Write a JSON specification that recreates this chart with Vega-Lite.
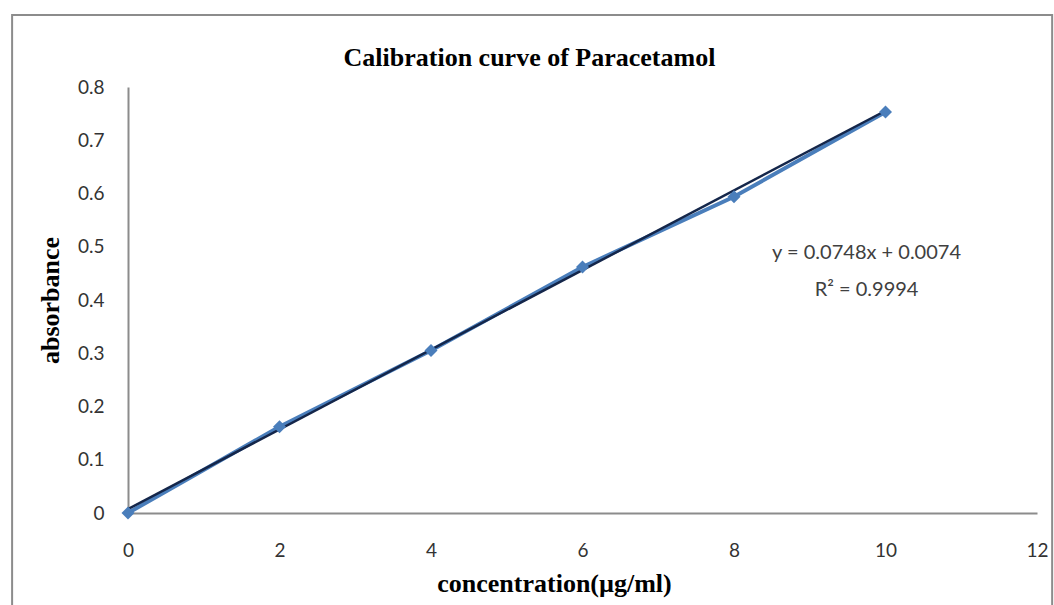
{
  "$schema": "https://vega.github.io/schema/vega-lite/v6.json",
  "width": 909,
  "height": 426,
  "autosize": {"type": "none"},
  "padding": {"left": 128, "top": 87, "right": 17, "bottom": 92},
  "background": "white",
  "config": {"view": {"stroke": null}},
  "datasets": {
    "points": [
      {"conc": 0, "abs": 0.0},
      {"conc": 2, "abs": 0.162},
      {"conc": 4, "abs": 0.305},
      {"conc": 6, "abs": 0.462},
      {"conc": 8, "abs": 0.594},
      {"conc": 10, "abs": 0.753}
    ],
    "trend": [
      {"conc": 0, "abs": 0.0074},
      {"conc": 10, "abs": 0.7554}
    ],
    "labels": [
      {"conc": 9.75, "abs": 0.488, "label": "y = 0.0748x + 0.0074"},
      {"conc": 9.75, "abs": 0.418, "label": "R² = 0.9994"}
    ],
    "title": [
      {"conc": 5.3, "abs": 0.855, "label": "Calibration curve of Paracetamol"}
    ],
    "frame": [
      {"x1": -1.53, "x2": 12.2, "y1": -0.2, "y2": 0.935}
    ]
  },
  "layer": [
    {
      "data": {"name": "frame"},
      "mark": {"type": "rect", "fill": null, "stroke": "#8c8c8c", "strokeWidth": 2, "clip": false},
      "encoding": {
        "x": {"field": "x1", "type": "quantitative", "scale": {"domain": [0, 12], "nice": false}},
        "x2": {"field": "x2"},
        "y": {"field": "y1", "type": "quantitative", "scale": {"domain": [0, 0.8], "nice": false}},
        "y2": {"field": "y2"}
      }
    },
    {
      "data": {"name": "points"},
      "mark": {"type": "line", "color": "#4a7ebb", "strokeWidth": 4},
      "encoding": {
        "x": {
          "field": "conc", "type": "quantitative",
          "scale": {"domain": [0, 12], "nice": false},
          "axis": {
            "title": "concentration(µg/ml)",
            "titleFont": "Liberation Serif", "titleFontSize": 26, "titleFontWeight": "bold", "titleColor": "#000000",
            "titlePadding": 10, "titleX": 426,
            "values": [0, 2, 4, 6, 8, 10, 12], "format": "~g",
            "labelFont": "Lato", "labelFontSize": 19, "labelColor": "#333333",
            "labelPadding": 28, "ticks": false, "grid": false,
            "domainColor": "#8c8c8c", "domainWidth": 2, "labelFlush": false
          }
        },
        "y": {
          "field": "abs", "type": "quantitative",
          "scale": {"domain": [0, 0.8], "nice": false},
          "axis": {
            "title": "absorbance",
            "titleFont": "Liberation Serif", "titleFontSize": 26, "titleFontWeight": "bold", "titleColor": "#000000",
            "titlePadding": 14,
            "values": [0, 0.1, 0.2, 0.3, 0.4, 0.5, 0.6, 0.7, 0.8], "format": "~g",
            "labelFont": "Lato", "labelFontSize": 19, "labelColor": "#333333",
            "labelPadding": 24, "ticks": false, "grid": false,
            "domainColor": "#8c8c8c", "domainWidth": 2, "labelFlush": false
          }
        }
      }
    },
    {
      "data": {"name": "trend"},
      "mark": {"type": "line", "color": "#14264a", "strokeWidth": 2.5},
      "encoding": {
        "x": {"field": "conc", "type": "quantitative"},
        "y": {"field": "abs", "type": "quantitative"}
      }
    },
    {
      "data": {"name": "points"},
      "mark": {"type": "point", "shape": "diamond", "filled": true, "color": "#4a7ebb", "size": 170, "opacity": 1, "clip": false},
      "encoding": {
        "x": {"field": "conc", "type": "quantitative"},
        "y": {"field": "abs", "type": "quantitative"}
      }
    },
    {
      "data": {"name": "labels"},
      "mark": {"type": "text", "font": "Lato", "fontSize": 20, "color": "#404040", "align": "center", "baseline": "middle"},
      "encoding": {
        "x": {"field": "conc", "type": "quantitative"},
        "y": {"field": "abs", "type": "quantitative"},
        "text": {"field": "label"}
      }
    },
    {
      "data": {"name": "title"},
      "mark": {"type": "text", "font": "Liberation Serif", "fontSize": 26, "fontWeight": "bold", "color": "#000000", "align": "center", "baseline": "middle", "clip": false},
      "encoding": {
        "x": {"field": "conc", "type": "quantitative"},
        "y": {"field": "abs", "type": "quantitative"},
        "text": {"field": "label"}
      }
    }
  ]
}
